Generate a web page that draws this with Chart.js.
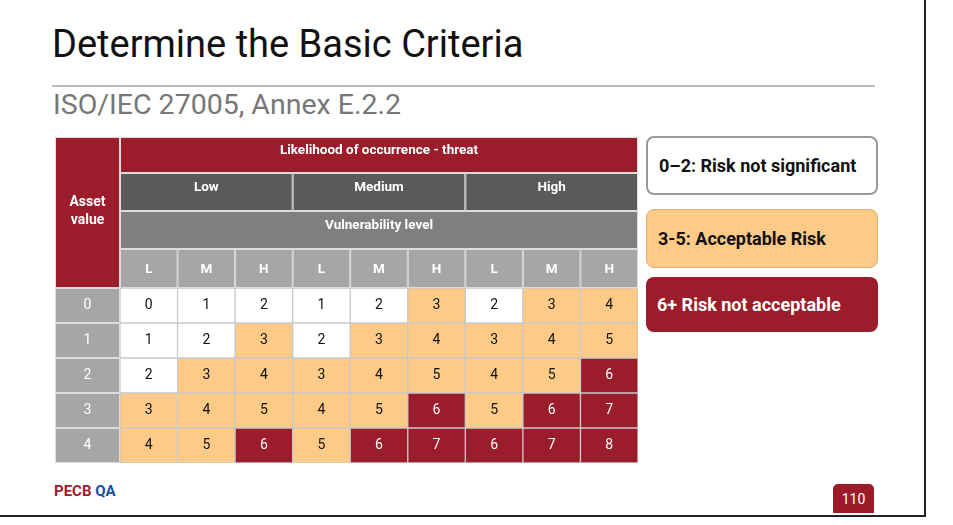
<!DOCTYPE html>
<html><head><meta charset="utf-8">
<script src="https://cdn.jsdelivr.net/npm/chart.js@4"></script>
<style>
body{margin:0;width:953px;height:525px;background:#fff;font-family:Roboto,sans-serif;position:relative;overflow:hidden}
.abs{position:absolute}
#title{left:52px;top:22px;font-size:38px;color:#111}
#rule{left:52px;top:85px;width:823px;height:2px;background:#bbb}
#sub{left:53px;top:88px;font-size:28.5px;color:#777}
#wrap{left:55px;top:137px;width:583px;height:326px}
.leg{left:646px;width:232px;border-radius:8px;box-sizing:border-box;font-weight:bold;font-size:18px;padding-left:11px;display:flex;align-items:center}
#frameR{left:924px;top:0;width:2px;height:517px;background:#222}
#frameB{left:0;top:515px;width:926px;height:2px;background:#222}
#logo{left:54px;top:482px;font-weight:bold;font-size:15px;color:#a01c2c}
#pg{left:833px;top:484px;width:41px;height:29px;background:#9b1b29;color:#fff;border-radius:5px 5px 0 0;font-size:14px;display:flex;align-items:center;justify-content:center}
</style></head><body>
<div id="title" class="abs">Determine the Basic Criteria</div>
<div id="rule" class="abs"></div>
<div id="sub" class="abs">ISO/IEC 27005, Annex E.2.2</div>
<div id="wrap" class="abs"><canvas id="c"></canvas></div>
<div class="abs leg" style="top:136px;height:59px;border:2px solid #999;background:#fff;color:#111">0–2: Risk not significant</div>
<div class="abs leg" style="top:209px;height:59px;border:1px solid #e0b070;background:#fdca87;color:#111">3-5: Acceptable Risk</div>
<div class="abs leg" style="top:277px;height:55px;background:#9b1c2a;color:#fff">6+ Risk not acceptable</div>
<div id="frameR" class="abs"></div><div id="frameB" class="abs"></div>
<div id="logo" class="abs">PECB <span style="color:#1a4fa0">QA</span></div>
<div id="pg" class="abs">110</div>
<script>
const likelihood=['Low','Medium','High'];
const vulnerability=['L','M','H','L','M','H','L','M','H'];
const assetValues=['0','1','2','3','4'];
const row0=[0,1,2,1,2,3,2,3,4];
const row1=[1,2,3,2,3,4,3,4,5];
const row2=[2,3,4,3,4,5,4,5,6];
const row3=[3,4,5,4,5,6,5,6,7];
const row4=[4,5,6,5,6,7,6,7,8];
const rows=[row0,row1,row2,row3,row4];
const RED='#9b1c2a',ORG='#fdca87';
const col=v=>v>=6?RED:(v>=3?ORG:'#fff');
const datasets=rows.map((r,i)=>({label:assetValues[i],data:r.map(()=>1),vals:r,
  backgroundColor:r.map(col),borderColor:'#c8c8c8',borderWidth:1,borderSkipped:false}));
const LEFT=65,TOP=151;
const plug={id:'hdr',afterDatasetsDraw(ch){
  const c=ch.ctx,x=ch.scales.x,a=ch.chartArea;
  const cw=(a.right-a.left)/9;
  const box=(x0,y0,w,hh,f)=>{c.fillStyle=f;c.fillRect(x0,y0,w,hh);c.strokeStyle='#ddd';c.lineWidth=1;c.strokeRect(x0+.5,y0+.5,w-1,hh-1);};
  const txt=(t,xx,yy,cl,f)=>{c.fillStyle=cl;c.font=f;c.textAlign='center';c.textBaseline='middle';c.fillText(t,xx,yy);};
  const t0=a.top-TOP;const hs=[0,36,74,112].map(v=>v+t0);
  box(0,t0,LEFT,TOP,RED);txt('Asset',LEFT/2,t0+65,'#fff','bold 14px Roboto');txt('value',LEFT/2,t0+83,'#fff','bold 14px Roboto');
  box(a.left,hs[0],a.right-a.left,36,RED);txt('Likelihood of occurrence - threat',(a.left+a.right)/2,hs[0]+14,'#fff','bold 13.5px Roboto');
  likelihood.forEach((l,i)=>{box(a.left+i*3*cw,hs[1],3*cw,38,'#5a5a5a');txt(l,a.left+(i*3+1.5)*cw,hs[1]+15,'#fff','bold 13.5px Roboto');});
  box(a.left,hs[2],a.right-a.left,38,'#7f7f7f');txt('Vulnerability level',(a.left+a.right)/2,hs[2]+15,'#fff','bold 13.5px Roboto');
  vulnerability.forEach((v,i)=>{box(a.left+i*cw,hs[3],cw,a.top-hs[3],'#a6a6a6');txt(v,x.getPixelForValue(i),a.top-18,'#fff','bold 13.5px Roboto');});
  ch.data.datasets.forEach((d,r)=>{const m=ch.getDatasetMeta(r);
    const bh=m.data[0].base-m.data[0].y;
    const yc=(m.data[0].y+m.data[0].base)/2;
    box(0,Math.min(m.data[0].y,m.data[0].base),LEFT,Math.abs(bh),'#a6a6a6');txt(d.label,LEFT/2,yc,'#fff','14px Roboto');
    d.vals.forEach((v,i)=>txt(String(v),m.data[i].x,yc,v>=6?'#fff':'#111','14px Roboto'));});
}};
new Chart(document.getElementById('c'),{type:'bar',data:{labels:vulnerability,datasets},
 options:{responsive:true,maintainAspectRatio:false,animation:false,
  layout:{padding:{left:LEFT,top:TOP,right:0,bottom:0}},
  plugins:{legend:{display:false},tooltip:{enabled:false}},
  datasets:{bar:{barPercentage:1,categoryPercentage:1}},
  scales:{x:{stacked:true,display:false},y:{stacked:true,display:false,reverse:true,min:0,max:5}}},
 plugins:[plug]});
</script></body></html>
